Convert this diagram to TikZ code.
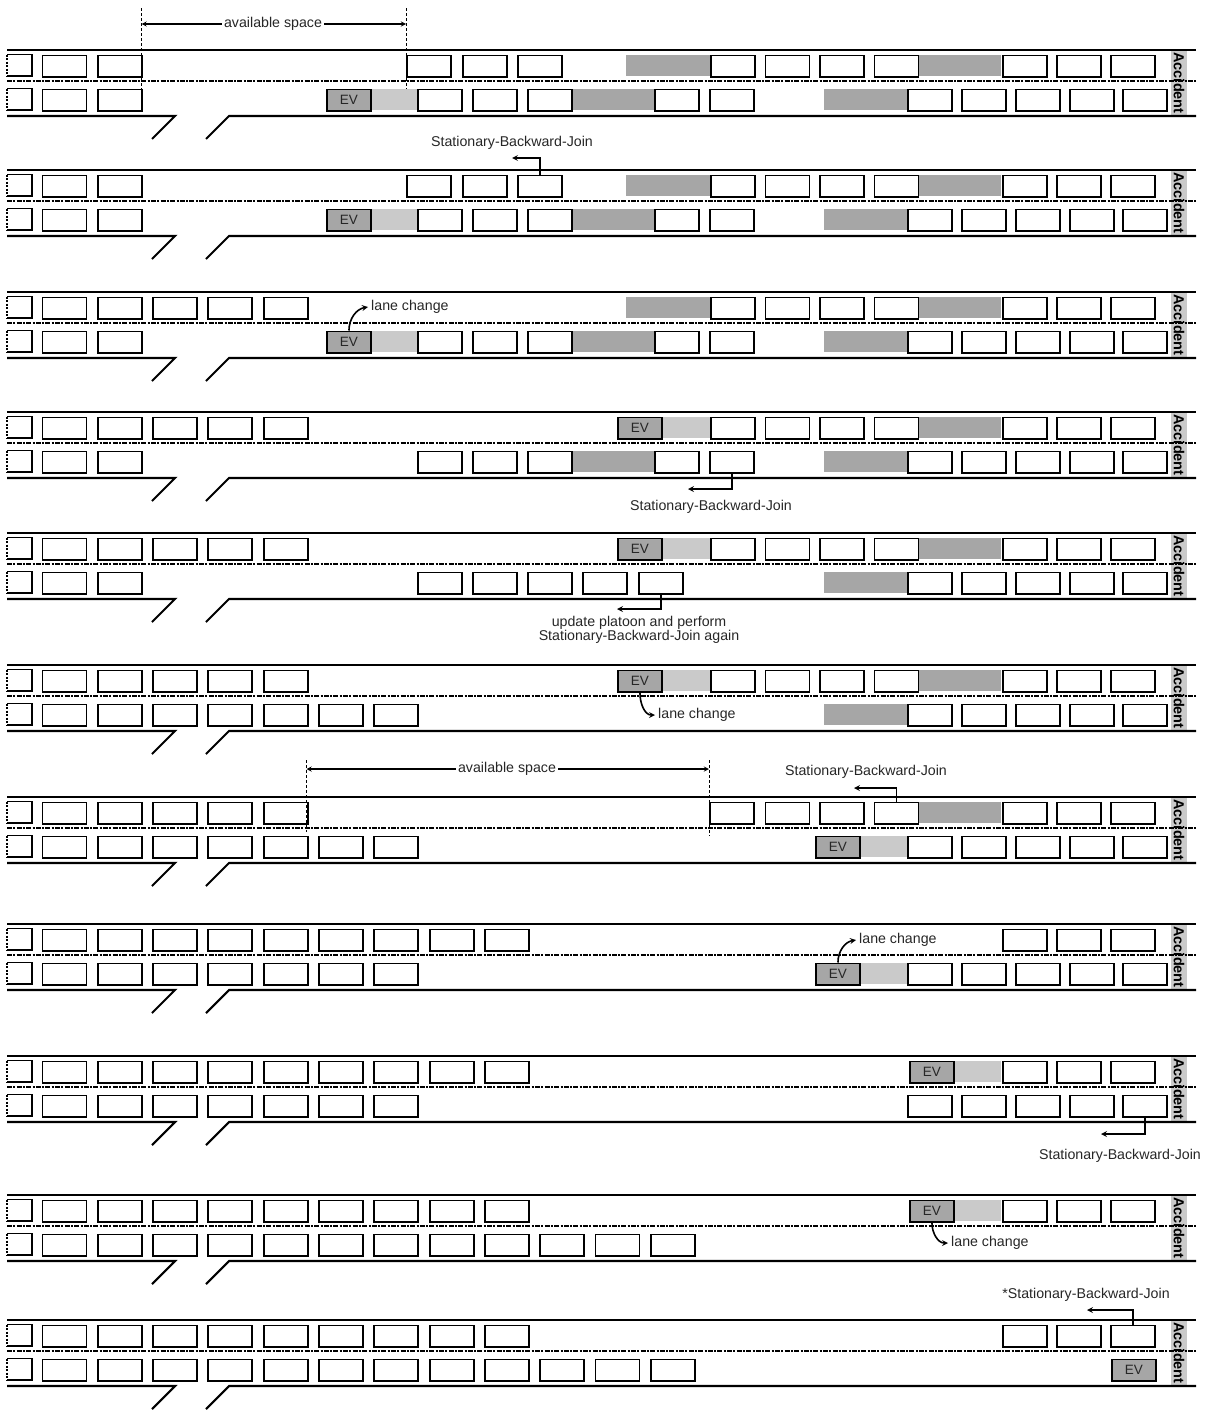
\documentclass[tikz,border=0pt]{standalone}
\usepackage{fontspec}
\setmainfont{Liberation Sans}
\usetikzlibrary{arrows}
\usepackage{xcolor}

\definecolor{gapgray}{RGB}{166,166,166}
\definecolor{trailgray}{RGB}{202,202,202}

% one road with lane marking, on-ramp, accident block and cut-off cars at the left
\newcommand{\roadway}[1]{%
  \fill[trailgray] (1171,1) rectangle (1187,65);
  \node[acctext] (#1acc) at (1179,33) {Accident};
  \draw[road] (7,0) -- (1196,0);
  \draw[road] (7,66) -- (175,66) -- (152,89);
  \draw[road] (206,89) -- (229,66) -- (1196,66);
  \draw[lanemark] (7,31) -- (1196,31);
  \draw[stub] (7,4.5) -- (32,4.5) -- (32,26) -- (7,26);
  \draw[stub] (7,38.5) -- (32,38.5) -- (32,60) -- (7,60);
  \draw[cut] (7,4.5) -- (7,26) (7,38.5) -- (7,60);
}
% cars on the regular grid at the left: prefix, lane, last slot
\newcommand{\carplatoon}[3]{%
  \foreach \i in {0,...,#3} \node[car] (#1\i) at ({41.5+55.3*\i},#2) {};}
% cars at given positions: prefix, lane, list of x
\newcommand{\carqueue}[3]{%
  \foreach \x [count=\n] in {#3} \node[car] (#1\n) at (\x,#2) {};}

\begin{document}
\begin{tikzpicture}[x=1pt, y=-1pt]

  % styles
  \tikzset{
    car/.style={rectangle, draw=black, line width=1.9pt, fill=white, anchor=north west,
      minimum width=44, minimum height=21.5, inner sep=0pt},
    evbox/.style={car, fill=gapgray, text=black!85, font=\fontsize{13.5}{13.5}\selectfont},
    road/.style={line width=2.1pt},
    lanemark/.style={line width=1.5pt, dash pattern=on 5pt off 1.3pt on 2pt off 1.3pt},
    stub/.style={line width=1.9pt},
    cut/.style={line width=1.2pt, dash pattern=on 2pt off 1.5pt},
    lbl/.style={font=\fontsize{14.2}{14.2}\selectfont, text=black!85, inner sep=2pt, align=center},
    lc/.style={lbl, anchor=west, inner sep=3pt},
    acctext/.style={rotate=-90, font=\bfseries\fontsize{14.5}{14.5}\selectfont, inner sep=0pt},
    arrow/.style={line width=1.6pt, ->, >=stealth},
    dim/.style={line width=1.3pt, ->, >=stealth},
    guide/.style={line width=1pt, dash pattern=on 3pt off 2pt}
  }

  \useasboundingbox (0,0) rectangle (1209,1416);

  % 1: EV stuck behind the jam
  \begin{scope}[yshift=-50pt]
    \roadway{s1}
    \fill[gapgray] (626,4.5) rectangle (710,26);
    \fill[gapgray] (918,4.5) rectangle (1001,26);
    \fill[trailgray] (370,38.5) rectangle (417,60);
    \fill[gapgray] (572,38.5) rectangle (654,60);
    \fill[gapgray] (824,38.5) rectangle (907,60);
    \carplatoon{s1ul}{4.5}{1}
    \carqueue{s1ur}{4.5}{406,462,517,710,764.5,819,873.5,1002,1056,1110}
    \carplatoon{s1ll}{38.5}{1}
    \carqueue{s1lr}{38.5}{417,472,527,654,709,907,961,1015,1069,1122}
    \node[evbox] (s1ev) at (326,38.5) {EV};
    \node[lbl, fill=white] (s1gap) at (273,-26) {available space};
    \coordinate (s1a) at (141.5,-26);
    \coordinate (s1b) at (406,-26);
    \draw[guide] (141.5,-42) -- (141.5,60);
    \draw[guide] (406,-42) -- (406,38.5);
    \draw[dim] (s1gap.west) -- (s1a);
    \draw[dim] (s1gap.east) -- (s1b);
  \end{scope}

  % 2
  \begin{scope}[yshift=-170pt]
    \roadway{s2}
    \fill[gapgray] (626,4.5) rectangle (710,26);
    \fill[gapgray] (918,4.5) rectangle (1001,26);
    \fill[trailgray] (370,38.5) rectangle (417,60);
    \fill[gapgray] (572,38.5) rectangle (654,60);
    \fill[gapgray] (824,38.5) rectangle (907,60);
    \carplatoon{s2ul}{4.5}{1}
    \carqueue{s2ur}{4.5}{406,462,517,710,764.5,819,873.5,1002,1056,1110}
    \carplatoon{s2ll}{38.5}{1}
    \carqueue{s2lr}{38.5}{417,472,527,654,709,907,961,1015,1069,1122}
    \node[evbox] (s2ev) at (326,38.5) {EV};
    \node[lbl] (s2sbj) at (512,-27) {Stationary-Backward-Join};
    \coordinate (s2tip) at (512,-12);
    \draw[arrow] (s2ur3.north) |- (s2tip);
  \end{scope}

  % 3
  \begin{scope}[yshift=-292pt]
    \roadway{s3}
    \fill[gapgray] (626,4.5) rectangle (710,26);
    \fill[gapgray] (918,4.5) rectangle (1001,26);
    \fill[trailgray] (370,38.5) rectangle (417,60);
    \fill[gapgray] (572,38.5) rectangle (654,60);
    \fill[gapgray] (824,38.5) rectangle (907,60);
    \carplatoon{s3ul}{4.5}{4}
    \carqueue{s3ur}{4.5}{710,764.5,819,873.5,1002,1056,1110}
    \carplatoon{s3ll}{38.5}{1}
    \carqueue{s3lr}{38.5}{417,472,527,654,709,907,961,1015,1069,1122}
    \node[evbox] (s3ev) at (326,38.5) {EV};
    \node[lc] (s3lc) at (368,15) {lane change};
    \draw[arrow] (s3ev.north) to[out=90,in=190] (s3lc.west);
  \end{scope}

  % 4
  \begin{scope}[yshift=-412pt]
    \roadway{s4}
    \fill[trailgray] (662,4.5) rectangle (710,26);
    \fill[gapgray] (918,4.5) rectangle (1001,26);
    \fill[gapgray] (572,38.5) rectangle (654,60);
    \fill[gapgray] (824,38.5) rectangle (907,60);
    \carplatoon{s4ul}{4.5}{4}
    \node[evbox] (s4ev) at (617,4.5) {EV};
    \carqueue{s4ur}{4.5}{710,764.5,819,873.5,1002,1056,1110}
    \carplatoon{s4ll}{38.5}{1}
    \carqueue{s4lr}{38.5}{417,472,527,654,709,907,961,1015,1069,1122}
    \node[lbl] (s4sbj) at (711,95) {Stationary-Backward-Join};
    \coordinate (s4tip) at (688,77);
    \draw[arrow] (s4lr5.south) |- (s4tip);
  \end{scope}

  % 5
  \begin{scope}[yshift=-533pt]
    \roadway{s5}
    \fill[trailgray] (662,4.5) rectangle (710,26);
    \fill[gapgray] (918,4.5) rectangle (1001,26);
    \fill[gapgray] (824,38.5) rectangle (907,60);
    \carplatoon{s5ul}{4.5}{4}
    \node[evbox] (s5ev) at (617,4.5) {EV};
    \carqueue{s5ur}{4.5}{710,764.5,819,873.5,1002,1056,1110}
    \carplatoon{s5ll}{38.5}{1}
    \carqueue{s5lr}{38.5}{417,472,527,582,638,907,961,1015,1069,1122}
    \node[lbl] (s5sbj) at (639,97) {update platoon and perform\\Stationary-Backward-Join again};
    \coordinate (s5tip) at (617,76);
    \draw[arrow] (s5lr5.south) |- (s5tip);
  \end{scope}

  % 6
  \begin{scope}[yshift=-665pt]
    \roadway{s6}
    \fill[trailgray] (662,4.5) rectangle (710,26);
    \fill[gapgray] (918,4.5) rectangle (1001,26);
    \fill[gapgray] (824,38.5) rectangle (907,60);
    \carplatoon{s6ul}{4.5}{4}
    \node[evbox] (s6ev) at (617,4.5) {EV};
    \carqueue{s6ur}{4.5}{710,764.5,819,873.5,1002,1056,1110}
    \carplatoon{s6ll}{38.5}{6}
    \carqueue{s6lr}{38.5}{907,961,1015,1069,1122}
    \node[lc] (s6lc) at (655,50) {lane change};
    \draw[arrow] (s6ev.south) to[out=-90,in=180] (s6lc.west);
  \end{scope}

  % 7
  \begin{scope}[yshift=-797pt]
    \roadway{s7}
    \fill[gapgray] (918,4.5) rectangle (1001,26);
    \fill[trailgray] (860,38.5) rectangle (907,60);
    \carplatoon{s7ul}{4.5}{4}
    \carqueue{s7ur}{4.5}{709,764.5,819,873.5,1002,1056,1110}
    \carplatoon{s7ll}{38.5}{6}
    \node[evbox] (s7ev) at (815,38.5) {EV};
    \carqueue{s7lr}{38.5}{907,961,1015,1069,1122}
    \node[lbl, fill=white] (s7gap) at (507,-28) {available space};
    \coordinate (s7a) at (306.5,-28);
    \coordinate (s7b) at (709,-28);
    \draw[guide] (306.5,-37) -- (306.5,35);
    \draw[guide] (709,-37) -- (709,39);
    \draw[dim] (s7gap.west) -- (s7a);
    \draw[dim] (s7gap.east) -- (s7b);
    \node[lbl] (s7sbj) at (866,-25) {Stationary-Backward-Join};
    \coordinate (s7tip) at (854,-9);
    \draw[arrow] (s7ur4.north) |- (s7tip);
  \end{scope}

  % 8
  \begin{scope}[yshift=-924pt]
    \roadway{s8}
    \fill[trailgray] (860,38.5) rectangle (907,60);
    \carplatoon{s8ul}{4.5}{8}
    \carqueue{s8ur}{4.5}{1002,1056,1110}
    \carplatoon{s8ll}{38.5}{6}
    \node[evbox] (s8ev) at (815,38.5) {EV};
    \carqueue{s8lr}{38.5}{907,961,1015,1069,1122}
    \node[lc] (s8lc) at (856,16) {lane change};
    \draw[arrow] (s8ev.north) to[out=90,in=190] (s8lc.west);
  \end{scope}

  % 9
  \begin{scope}[yshift=-1056pt]
    \roadway{s9}
    \fill[trailgray] (954,4.5) rectangle (1001,26);
    \carplatoon{s9ul}{4.5}{8}
    \node[evbox] (s9ev) at (909,4.5) {EV};
    \carqueue{s9ur}{4.5}{1002,1056,1110}
    \carplatoon{s9ll}{38.5}{6}
    \carqueue{s9lr}{38.5}{907,961,1015,1069,1122}
    \node[lbl] (s9sbj) at (1120,100) {Stationary-Backward-Join};
    \coordinate (s9tip) at (1101,78);
    \draw[arrow] (s9lr5.south) |- (s9tip);
  \end{scope}

  % 10
  \begin{scope}[yshift=-1195pt]
    \roadway{s10}
    \fill[trailgray] (954,4.5) rectangle (1001,26);
    \carplatoon{s10ul}{4.5}{8}
    \node[evbox] (s10ev) at (909,4.5) {EV};
    \carqueue{s10ur}{4.5}{1002,1056,1110}
    \carplatoon{s10ll}{38.5}{11}
    \node[lc] (s10lc) at (948,48) {lane change};
    \draw[arrow] (s10ev.south) to[out=-90,in=180] (s10lc.west);
  \end{scope}

  % 11
  \begin{scope}[yshift=-1320pt]
    \roadway{s11}
    \carplatoon{s11ul}{4.5}{8}
    \carqueue{s11ur}{4.5}{1002,1056,1110}
    \carplatoon{s11ll}{38.5}{11}
    \node[evbox] (s11ev) at (1111,38.5) {EV};
    \node[lbl] (s11sbj) at (1086,-25) {*Stationary-Backward-Join};
    \coordinate (s11tip) at (1087,-10);
    \draw[arrow] (s11ur3.north) |- (s11tip);
  \end{scope}

\end{tikzpicture}
\end{document}
